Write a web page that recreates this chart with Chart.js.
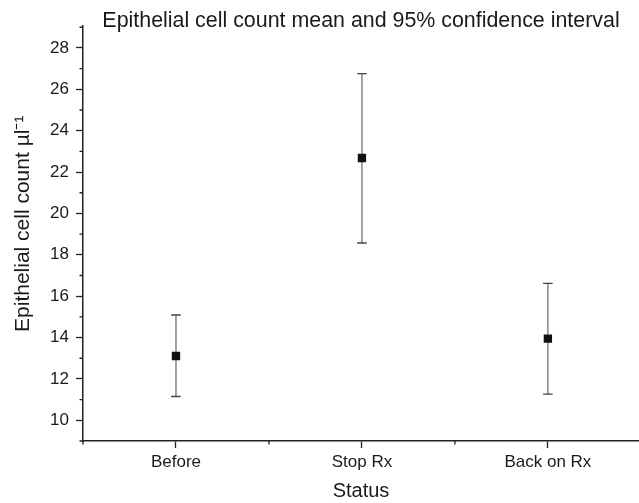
<!DOCTYPE html>
<html>
<head>
<meta charset="utf-8">
<script src="https://cdn.jsdelivr.net/npm/chart.js@4/dist/chart.umd.min.js"></script>
<style>
  html, body { margin: 0; padding: 0; background: #fff; overflow: hidden; }
  #wrap { width: 639px; height: 503px; position: relative; }
  canvas { display: block; }
</style>
</head>
<body>
<div id="wrap"><canvas id="c" width="639" height="503"></canvas></div>
<script>
// ---- data ----
const categories = ['Before', 'Stop Rx', 'Back on Rx'];
const means  = [13.11, 22.68, 13.95];
const ciLow  = [11.15, 18.57, 11.27];
const ciHigh = [15.09, 26.76, 16.62];
const yTicks = [10, 12, 14, 16, 18, 20, 22, 24, 26, 28];
const yMinorTicks = [9, 11, 13, 15, 17, 19, 21, 23, 25, 27, 29];
const xMinorTicks = [0.5, 1.5, 2.5, 3.5];
const titleText = 'Epithelial cell count mean and 95% confidence interval';
const yTitle = 'Epithelial cell count \u00b5l\u207b\u00b9';
const xTitle = 'Status';

const FONT = "'Liberation Sans', Arial, Helvetica, sans-serif";
const AXIS = '#222';

const minorTicks = {
  id: 'minorTicks',
  afterDraw(chart) {
    const {ctx, chartArea} = chart;
    const xs = chart.scales.x, ys = chart.scales.y;
    ctx.save();
    ctx.strokeStyle = AXIS;
    ctx.lineWidth = 1.3;
    ctx.beginPath();
    yMinorTicks.forEach(v => {
      if (v < ys.min || v > ys.max) return;
      const p = ys.getPixelForValue(v);
      ctx.moveTo(chartArea.left - 3.5, p);
      ctx.lineTo(chartArea.left, p);
    });
    xMinorTicks.forEach(v => {
      if (v < xs.min || v > xs.max) return;
      const p = xs.getPixelForValue(v);
      ctx.moveTo(p, chartArea.bottom);
      ctx.lineTo(p, chartArea.bottom + 3.5);
    });
    ctx.stroke();
    // y axis title
    const yc = ys.getPixelForValue(19.5);
    ctx.translate(23.5, yc);
    ctx.rotate(-Math.PI / 2);
    ctx.fillStyle = '#1a1a1a';
    ctx.font = '21px ' + FONT;
    ctx.textAlign = 'center';
    ctx.textBaseline = 'middle';
    ctx.fillText(yTitle, 0, 0);
    ctx.restore();
  }
};

const datasets = [
  {
    label: 'Mean',
    data: means.map((m, i) => ({x: i + 1, y: m})),
    showLine: false,
    pointStyle: 'rect',
    pointRadius: 5.9,
    pointBackgroundColor: '#111',
    pointBorderColor: '#111',
    pointBorderWidth: 0
  }
].concat(categories.map((c, i) => ({
  label: c + ' CI',
  data: [{x: i + 1, y: ciLow[i]}, {x: i + 1, y: ciHigh[i]}],
  showLine: true,
  borderColor: '#7a7a7a',
  borderWidth: 1.4,
  pointStyle: 'line',
  pointRadius: 4.8,
  pointBorderColor: '#444',
  pointBorderWidth: 1.3
})));

new Chart(document.getElementById('c'), {
  type: 'scatter',
  data: { datasets },
  plugins: [minorTicks],
  options: {
    responsive: false,
    animation: false,
    events: [],
    layout: { padding: 0, autoPadding: false },
    plugins: {
      legend: { display: false },
      tooltip: { enabled: false },
      title: {
        display: true,
        text: titleText,
        fullSize: false,
        color: '#1a1a1a',
        font: { family: FONT, size: 21.4, weight: 'normal', lineHeight: 0.5 },
        padding: { top: 15.5, bottom: 0 }
      }
    },
    scales: {
      x: {
        type: 'linear',
        min: 0.5,
        max: 3.49,
        afterBuildTicks: s => { s.ticks = categories.map((c, i) => ({value: i + 1})); },
        afterFit: s => { s.height = 62; s.paddingLeft = 0; s.paddingRight = 0; },
        ticks: {
          callback: v => categories[v - 1],
          color: '#1a1a1a',
          font: { family: FONT, size: 17 },
          padding: 4,
          maxRotation: 0,
          autoSkip: false
        },
        grid: { drawOnChartArea: false, drawTicks: true, tickLength: 7, tickColor: AXIS, tickWidth: 1.3 },
        border: { display: true, color: AXIS, width: 1.5 },
        title: {
          display: true,
          text: xTitle,
          color: '#1a1a1a',
          font: { family: FONT, size: 20 },
          padding: { top: 0, bottom: 0 }
        }
      },
      y: {
        type: 'linear',
        min: 9,
        max: 29.05,
        afterBuildTicks: s => { s.ticks = yTicks.map(v => ({value: v})); },
        afterFit: s => { s.width = 83; s.paddingTop = 0; s.paddingBottom = 0; },
        ticks: {
          color: '#1a1a1a',
          font: { family: FONT, size: 17 },
          padding: 7
        },
        grid: { drawOnChartArea: false, drawTicks: true, tickLength: 7, tickColor: AXIS, tickWidth: 1.3 },
        border: { display: true, color: AXIS, width: 1.5 },
        title: { display: false }
      }
    }
  }
});
</script>
</body>
</html>
